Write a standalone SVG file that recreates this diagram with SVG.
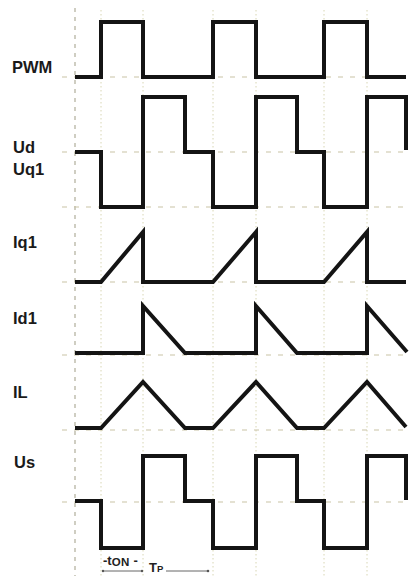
<svg xmlns="http://www.w3.org/2000/svg" width="413" height="576" viewBox="0 0 413 576">
<style>
.lbl{font-family:"Liberation Sans",Arial,sans-serif;font-weight:bold;font-size:16.5px;fill:#1a1a1a}
.wave{fill:none;stroke:#141414;stroke-width:4;stroke-linejoin:miter;stroke-linecap:butt}
.hgrid{stroke:#c9c4a6;stroke-width:1.2;stroke-dasharray:5 7}
.vgrid{stroke:#d8d6b4;stroke-width:1;stroke-dasharray:1.5 2.5}
.vaxis{stroke:#b0ad9a;stroke-width:1.2;stroke-dasharray:4 5}
.ann{font-family:"Liberation Sans",Arial,sans-serif;font-weight:bold;fill:#222}
.dim{stroke:#666;stroke-width:1}
</style>
<rect width="413" height="576" fill="#ffffff"/>
<g id="grid">
<line class="vaxis" x1="75" y1="8" x2="75" y2="576"/>
<line class="vgrid" x1="101" y1="10" x2="101" y2="576"/>
<line class="vgrid" x1="143" y1="10" x2="143" y2="576"/>
<line class="vgrid" x1="213" y1="10" x2="213" y2="576"/>
<line class="vgrid" x1="256" y1="10" x2="256" y2="576"/>
<line class="vgrid" x1="324" y1="10" x2="324" y2="576"/>
<line class="vgrid" x1="367" y1="10" x2="367" y2="576"/>
<line class="hgrid" x1="62" y1="77" x2="407" y2="77"/>
<line class="hgrid" x1="62" y1="152" x2="407" y2="152"/>
<line class="hgrid" x1="62" y1="207" x2="407" y2="207"/>
<line class="hgrid" x1="62" y1="282" x2="407" y2="282"/>
<line class="hgrid" x1="62" y1="355" x2="407" y2="355"/>
<line class="hgrid" x1="62" y1="430" x2="407" y2="430"/>
<line class="hgrid" x1="62" y1="502" x2="407" y2="502"/>
</g>
<g id="pwm">
<text class="lbl" x="12" y="73">PWM</text>
<polyline class="wave" points="75,77 101,77 101,22 143,22 143,77 213,77 213,22 256,22 256,77 324,77 324,22 367,22 367,77 406,77"/>
</g>
<g id="ud-uq1">
<text class="lbl" x="13" y="153">Ud</text>
<text class="lbl" x="13" y="175">Uq1</text>
<polyline class="wave" points="75,152 101,152 101,207 143,207 143,97 185,97 185,152 213,152 213,207 256,207 256,97 297,97 297,152 324,152 324,207 367,207 367,97 406,97 406,150"/>
</g>
<g id="iq1">
<text class="lbl" x="13" y="248">Iq1</text>
<polyline class="wave" points="75,282 101,282 143,232 143,282 213,282 256,232 256,282 324,282 367,232 367,282 406,282"/>
</g>
<g id="id1">
<text class="lbl" x="13" y="324">Id1</text>
<polyline class="wave" points="75,353 143,353 143,306 185,353 256,353 256,306 297,353 367,353 367,306 407,352"/>
</g>
<g id="il">
<text class="lbl" x="13" y="398">IL</text>
<polyline class="wave" points="75,428 101,428 143,382 185,428 213,428 256,382 297,428 324,428 367,382 406,427"/>
</g>
<g id="us">
<text class="lbl" x="14" y="468">Us</text>
<polyline class="wave" points="75,501 101,501 101,548 143,548 143,456 185,456 185,501 213,501 213,548 256,548 256,456 297,456 297,501 324,501 324,548 367,548 367,456 406,456 406,500"/>
</g>
<g id="timing">
<text class="ann" x="103" y="565" font-size="13">-t<tspan font-size="11.5" dy="1" letter-spacing="0.5">ON</tspan><tspan dy="-1" font-size="13"> -</tspan></text>
<line class="dim" x1="103" y1="571" x2="142" y2="571"/>
<circle cx="103" cy="571" r="1.2" fill="#555"/>
<circle cx="142" cy="571" r="1.2" fill="#555"/>
<text class="ann" x="149" y="572" font-size="13">T<tspan font-size="9.5">P</tspan></text>
<line class="dim" x1="166" y1="571" x2="208" y2="571"/>
<circle cx="208" cy="571" r="1.3" fill="#555"/>
</g>
</svg>
